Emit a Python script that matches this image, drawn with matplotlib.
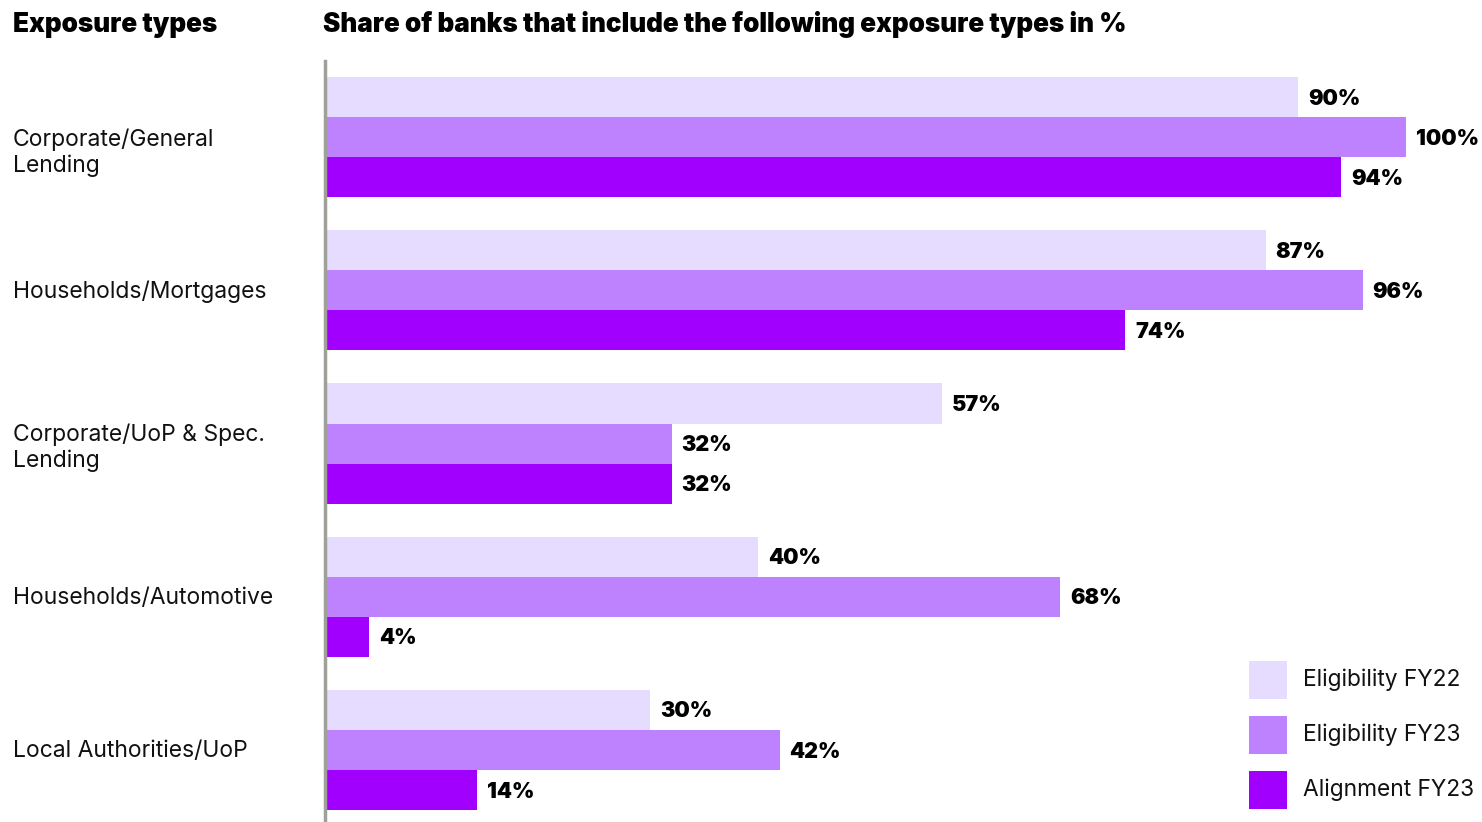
import matplotlib
matplotlib.use("Agg")
import matplotlib.pyplot as plt
from matplotlib.patches import Rectangle
import numpy as np

categories = ["Corporate/General\nLending", "Households/Mortgages",
              "Corporate/UoP & Spec.\nLending", "Households/Automotive",
              "Local Authorities/UoP"]
series_names = ["Eligibility FY22", "Eligibility FY23", "Alignment FY23"]
elig_fy22 = [90, 87, 57, 40, 30]
elig_fy23 = [100, 96, 32, 68, 42]
align_fy23 = [94, 74, 32, 4, 14]
colors = ["#E5DCFF", "#BE82FF", "#A100FF"]

plt.rcParams['font.family'] = ['Inter', 'DejaVu Sans']

W, H = 1482, 822
fig = plt.figure(figsize=(W / 100, H / 100), dpi=100)
ax = fig.add_axes([325 / W, 0, (W - 325) / W, (822 - 61) / H])

bh = 40 / 153
y = np.arange(len(categories))
for i, (vals, c) in enumerate(zip([elig_fy22, elig_fy23, align_fy23], colors)):
    ys = y + (i - 1) * bh
    ax.barh(ys, vals, height=bh, color=c, left=0.1, label=series_names[i])
    for yy, v in zip(ys, vals):
        ax.text(v + 1.0, yy + 0.01, f"{v}%", va="center", ha="left",
                fontsize=15.5, fontweight="black", color="black")

ax.set_xlim(0, (W - 325) / 1080 * 100)
ax.set_ylim(4.47, -0.497)
ax.set_xticks([])
ax.set_yticks([])
for s in ["top", "right", "bottom"]:
    ax.spines[s].set_visible(False)
ax.spines["left"].set_color("#A0A09A")
ax.spines["left"].set_linewidth(2.5)

label_offsets = [0.1, 0.012, 0.03, 0.012, 0.012]
for yy, cat, off in zip(y, categories, label_offsets):
    fig.text(13 / W, 1 - (61 + (yy + off + 0.497) * 153) / H, cat, ha="left", va="center",
             fontsize=16.5, color="#111111", linespacing=1.2)

fig.text(13 / W, 1 - 25 / H, "Exposure types", ha="left", va="center",
         fontsize=18.8, fontweight="black", color="black")
fig.text(323 / W, 1 - 25 / H, "Share of banks that include the following exposure types in %",
         ha="left", va="center", fontsize=18.8, fontweight="black", color="black")

# legend
for k, (name, c) in enumerate(zip(series_names, colors)):
    cy = 680 + 55 * k
    fig.patches.append(Rectangle((1249 / W, 1 - (cy + 19) / H), 38 / W, 38 / H,
                                 transform=fig.transFigure, facecolor=c,
                                 edgecolor="none"))
    fig.text(1303 / W, 1 - cy / H, name, ha="left", va="center",
             fontsize=16.4, color="#111111")

fig.savefig("out.png", dpi=100)
